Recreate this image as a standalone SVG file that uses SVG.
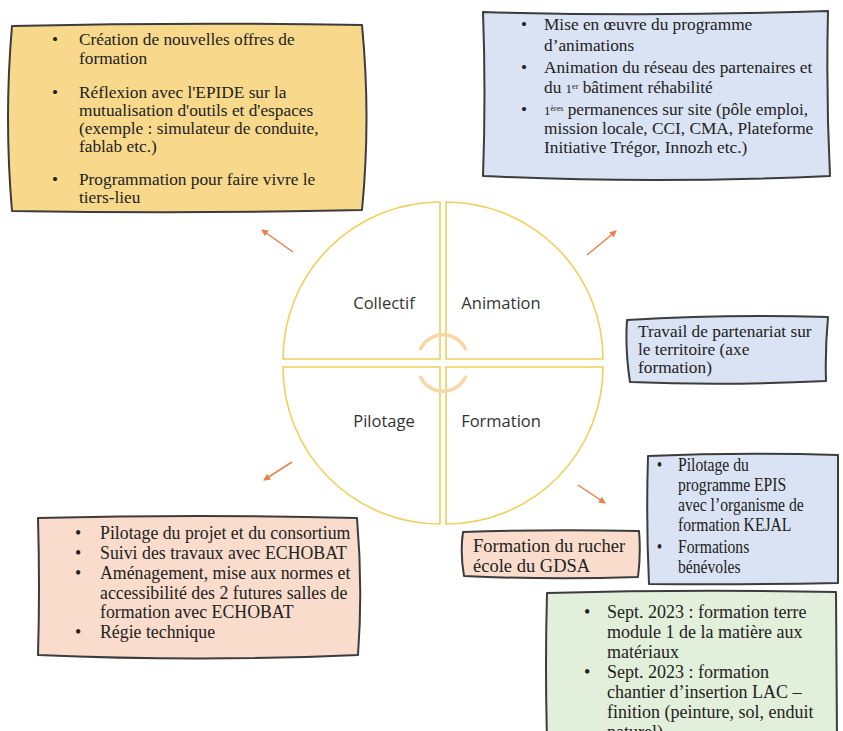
<svg xmlns="http://www.w3.org/2000/svg" width="843" height="731" viewBox="0 0 843 731">
<defs>
<marker id="ah" markerWidth="8" markerHeight="8" refX="6" refY="4" orient="auto" markerUnits="userSpaceOnUse">
<path d="M0,0.5 L7,4 L0,7.5 Z" fill="#e8804a"/>
</marker>
</defs>
<style>
.box{stroke:#3c3c3c;stroke-width:2;stroke-linejoin:round}
.yel{fill:#f8d98b}
.blu{fill:#dae3f3}
.pea{fill:#f9dccb}
.grn{fill:#e2efda}
.t{font-family:"Liberation Serif",serif;font-size:17.3px;fill:#222}
.lab{font-family:"Open Sans",sans-serif;font-size:16.5px;fill:#333}
.q{fill:#fff;stroke:#f0cf5a;stroke-width:1.6}
.arr{stroke:#e8804a;stroke-width:1.5;fill:none;marker-end:url(#ah)}
.hub{stroke:#f7d7a6;stroke-width:3.5;fill:none}
</style>
<rect width="843" height="731" fill="#fff"/>

<g id="wheel">
<path class="q" d="M440,359 L283,359 A157,157 0 0 1 440,202 Z"/>
<path class="q" d="M446,359 L446,202 A157,157 0 0 1 603,359 Z"/>
<path class="q" d="M440,367 L440,524 A157,157 0 0 1 283,367 Z"/>
<path class="q" d="M446,367 L603,367 A157,157 0 0 1 446,524 Z"/>
<path class="hub" d="M420,350 A25,25 0 0 1 466,350"/>
<path class="hub" d="M420,376 A25,25 0 0 0 466,376"/>
<text class="lab" x="384" y="309" text-anchor="middle">Collectif</text>
<text class="lab" x="501" y="309" text-anchor="middle">Animation</text>
<text class="lab" x="384" y="427" text-anchor="middle">Pilotage</text>
<text class="lab" x="501" y="427" text-anchor="middle">Formation</text>
</g>

<g id="connectors">
<line class="arr" x1="293" y1="252" x2="262" y2="230"/>
<line class="arr" x1="587" y1="255" x2="616" y2="231"/>
<line class="arr" x1="292" y1="462" x2="264" y2="480"/>
<line class="arr" x1="578" y1="485" x2="605" y2="503"/>
</g>

<g id="collectif-box">
<path class="box yel" d="M12,26 Q190,22 362,25 Q371,118 362,210 Q190,214 12,211 Q4,118 12,26 Z"/>
<g class="t">
<text x="52" y="45">•</text>
<text x="79" y="45">Création de nouvelles offres de</text>
<text x="79" y="64">formation</text>
<text x="52" y="98">•</text>
<text x="79" y="98">Réflexion avec l'EPIDE sur la</text>
<text x="79" y="116">mutualisation d'outils et d'espaces</text>
<text x="79" y="134">(exemple : simulateur de conduite,</text>
<text x="79" y="152">fablab etc.)</text>
<text x="52" y="185">•</text>
<text x="79" y="185">Programmation pour faire vivre le</text>
<text x="79" y="203">tiers-lieu</text>
</g>
</g>

<g id="animation-box">
<path class="box blu" d="M483,12 Q650,17 828,11 Q826,95 830,176 Q650,184 483,176 Q486,95 483,12 Z"/>
<g class="t">
<text x="521" y="30">•</text>
<text x="544" y="30">Mise en œuvre du programme</text>
<text x="544" y="51">d’animations</text>
<text x="521" y="73">•</text>
<text x="544" y="73">Animation du réseau des partenaires et</text>
<text x="544" y="93">du <tspan font-size="13">1</tspan><tspan font-size="8" baseline-shift="super">er</tspan> bâtiment réhabilité</text>
<text x="521" y="115">•</text>
<text x="544" y="115"><tspan font-size="13">1</tspan><tspan font-size="8" baseline-shift="super">ères</tspan> permanences sur site (pôle emploi,</text>
<text x="544" y="134">mission locale, CCI, CMA, Plateforme</text>
<text x="544" y="153">Initiative Trégor, Innozh etc.)</text>
</g>
</g>

<g id="partenariat-box">
<path class="box blu" d="M627,320 Q725,314 828,317 Q825,350 826,381 Q725,386 630,382 Q625,350 627,320 Z"/>
<g class="t">
<text x="638" y="337">Travail de partenariat sur</text>
<text x="638" y="355">le territoire (axe</text>
<text x="638" y="373">formation)</text>
</g>
</g>

<g id="pilotage-box">
<path class="box pea" d="M38,518 Q200,514 357,518 Q363,588 358,655 Q200,662 38,655 Q40,588 38,518 Z"/>
<g class="t" style="font-size:17.8px">
<text x="75" y="539">•</text>
<text x="100" y="539">Pilotage du projet et du consortium</text>
<text x="75" y="559">•</text>
<text x="100" y="559">Suivi des travaux avec ECHOBAT</text>
<text x="75" y="579">•</text>
<text x="100" y="579">Aménagement, mise aux normes et</text>
<text x="100" y="599">accessibilité des 2 futures salles de</text>
<text x="100" y="618">formation avec ECHOBAT</text>
<text x="75" y="638">•</text>
<text x="100" y="638">Régie technique</text>
</g>
</g>

<g id="rucher-box">
<path class="box pea" d="M463,532 Q550,529 639,531 Q641,553 638,577 Q550,580 464,576 Q460,553 463,532 Z"/>
<g class="t" style="font-size:18.5px">
<text x="473" y="552">Formation du rucher</text>
<text x="473" y="572">école du GDSA</text>
</g>
</g>

<g id="epis-box">
<path class="box blu" d="M648,456 Q740,452 838,455 L838,583 Q740,585 649,584 Q646,520 648,456 Z"/>
<g class="t" transform="translate(678,0) scale(0.88,1) translate(-678,0)" style="font-size:17.8px">
<text x="654" y="471">•</text>
<text x="678" y="471">Pilotage du</text>
<text x="678" y="491">programme EPIS</text>
<text x="678" y="511">avec l’organisme de</text>
<text x="678" y="531">formation KEJAL</text>
<text x="654" y="553">•</text>
<text x="678" y="553">Formations</text>
<text x="678" y="573">bénévoles</text>
</g>
</g>

<g id="terre-box">
<path class="box grn" d="M547,593 Q690,589 836,592 L837,740 L547,740 Q545,665 547,593 Z"/>
<g class="t" style="font-size:18px">
<text x="584" y="618">•</text>
<text x="607" y="618">Sept. 2023 : formation terre</text>
<text x="607" y="638">module 1 de la matière aux</text>
<text x="607" y="658">matériaux</text>
<text x="584" y="678">•</text>
<text x="607" y="678">Sept. 2023 : formation</text>
<text x="607" y="698">chantier d’insertion LAC –</text>
<text x="607" y="718">finition (peinture, sol, enduit</text>
<text x="607" y="738">naturel)</text>
</g>
</g>
</svg>
